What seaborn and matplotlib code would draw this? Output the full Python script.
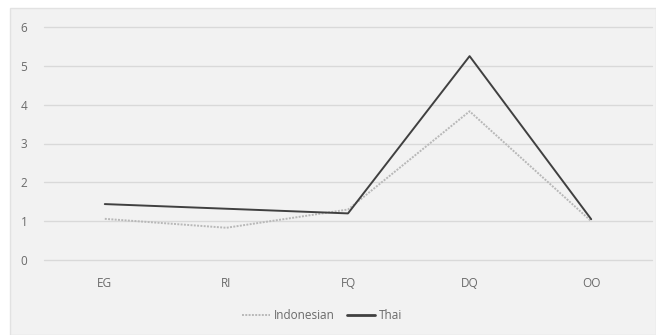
import matplotlib
matplotlib.use("Agg")
import matplotlib.pyplot as plt
import seaborn as sns
import pandas as pd

categories = ["EG", "RI", "FQ", "DQ", "OO"]
indonesian = [1.06, 0.83, 1.30, 3.83, 1.00]
thai = [1.44, 1.32, 1.20, 5.25, 1.05]
series_names = ["Indonesian", "Thai"]

df = pd.DataFrame({
    "category": categories * 2,
    "value": indonesian + thai,
    "group": [series_names[0]] * len(categories) + [series_names[1]] * len(categories),
})
df["pos"] = list(range(len(categories))) * 2

sns.set_theme(style="white")
plt.rcParams["font.family"] = ["Open Sans", "DejaVu Sans"]

fig = plt.figure(figsize=(6.56, 3.35), dpi=100, facecolor="white")
# panel background with a thin outline, kept behind the axes
panel = plt.Rectangle((10 / 656, 0), 1 - 10 / 656, 1 - 8 / 335, transform=fig.transFigure,
                      facecolor="#f2f2f2", edgecolor="#e2e2e2", linewidth=1.0, zorder=-10)
fig.patches.append(panel)

ax = fig.add_axes([44 / 656, 1 - 260 / 335, 608 / 656, 233 / 335])
ax.set_facecolor("none")
ax.set_zorder(5)

sns.lineplot(data=df, x="pos", y="value", hue="group", style="group",
             palette={"Indonesian": "#b8b8b8", "Thai": "#404040"},
             dashes={"Indonesian": (1.0, 0.7), "Thai": ""},
             linewidth=1.4, ax=ax, legend=True)
for line in ax.lines:
    if line.get_label() == "Thai":
        line.set_linewidth(2.0)

ax.set_xlim(-0.5, len(categories) - 0.5)
ax.set_ylim(0, 6)
ax.set_xticks(range(len(categories)))
ax.set_xticklabels(categories)
ax.set_yticks(range(0, 7))
ax.yaxis.grid(True, color="#d9d9d9", linewidth=1.0)
for gl in ax.get_ygridlines():
    gl.set_clip_on(False)
ax.xaxis.grid(False)
ax.set_axisbelow(True)
for s in ax.spines.values():
    s.set_visible(False)
ax.tick_params(axis="x", length=0, pad=12, labelsize=8.5, labelcolor="#6a6a6a")
ax.tick_params(axis="y", length=0, pad=12, labelsize=8.5, labelcolor="#6a6a6a")
ax.set_xlabel("")
ax.set_ylabel("")

handles, labels = ax.get_legend_handles_labels()
ax.legend(handles, labels, loc="center", bbox_to_anchor=(0.457, -0.24),
          ncol=2, frameon=False, fontsize=8.5, labelcolor="#6a6a6a",
          handlelength=2.4, handletextpad=0.3, columnspacing=1.0)

fig.savefig("out.png", dpi=100, facecolor=fig.get_facecolor())
